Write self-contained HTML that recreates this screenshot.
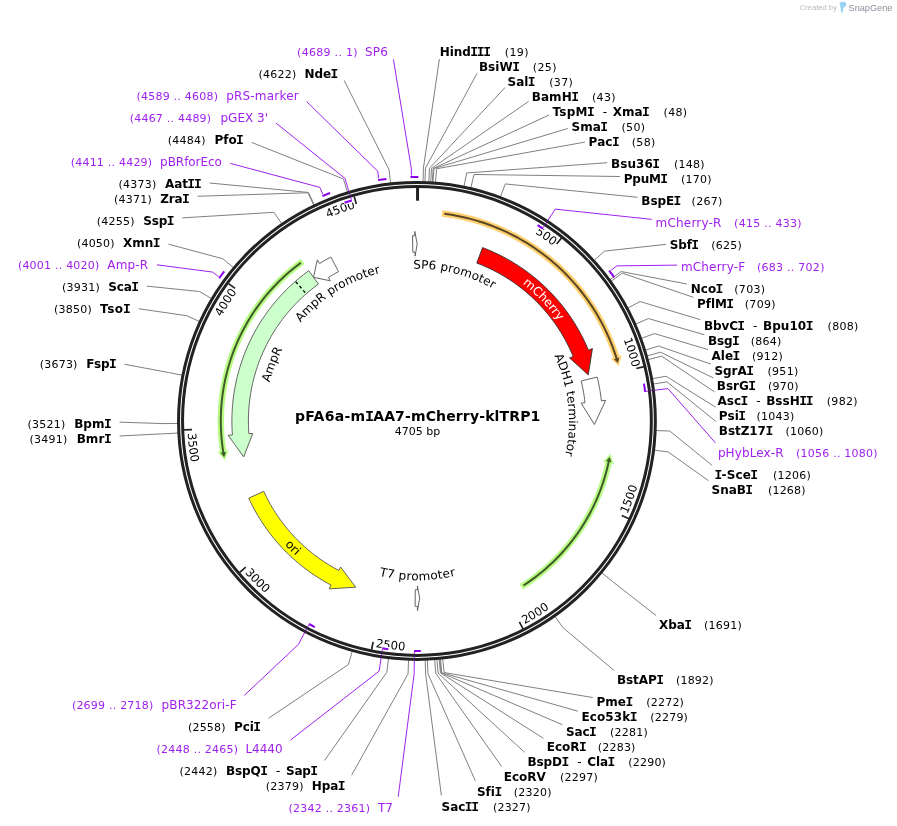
<!DOCTYPE html>
<html><head><meta charset="utf-8"><title>pFA6a-mIAA7-mCherry-klTRP1</title>
<style>html,body{margin:0;padding:0;background:#fff}svg{display:block}</style></head>
<body><svg width="897" height="826" viewBox="0 0 897 826" font-family='"DejaVu Sans", "Liberation Sans", sans-serif'>
<defs><path id="p1" d="M197.52,391.14 A221.7,221.7 0 1 1 501.18,626.18"/>
<path id="p2" d="M263.19,261.53 A221.7,221.7 0 1 1 356.1,634.11"/>
<path id="p3" d="M231.49,556.18 A229.7,229.7 0 1 0 392.99,192.58"/>
<path id="p4" d="M187.67,412.16 A229.7,229.7 0 1 0 539.62,226.64"/>
<path id="p5" d="M242.44,271.93 A229.7,229.7 0 1 0 633.68,344.19"/>
<path id="p6" d="M372.27,195.74 A229.7,229.7 0 1 0 634.75,494.72"/>
<path id="p7" d="M521.4,216.3 A229.7,229.7 0 1 0 542.38,613.59"/>
<path id="p8" d="M395.79,641.66 A221.7,221.7 0 1 1 619,329.21"/>
<path id="p9" d="M263.76,581.02 A221.7,221.7 0 1 1 632.5,473.88"/>
<path id="p10" d="M250.9,373.31 A173,173 0 1 1 459.05,588.86"/>
<path id="p11" d="M368.72,246.2 A181.4,181.4 0 1 0 592.82,466.42"/>
<path id="p12" d="M270.73,462.72 A152.3,152.3 0 1 1 526.57,526.99"/>
<path id="p13" d="M327.33,298.66 A151.8,151.8 0 1 1 356.18,560"/>
<path id="p14" d="M345.56,555.74 A152.6,152.6 0 1 1 569.71,415.67"/>
<path id="p15" d="M440.55,571.8 A152.6,152.6 0 1 1 536.13,325.38"/>
<path id="p16" d="M279.24,341.35 A159.3,159.3 0 1 0 555.16,341.35"/></defs>
<rect width="897" height="826" fill="#fff"/>
<path d="M439.39,59 L423.42,168.08 L423.07,181.88 M477.05,73.42 L425.45,168.14 L424.98,181.93 M504.97,87.59 L429.5,168.31 L428.81,182.09 M528.65,101.4 L431.52,168.42 L430.73,182.19 M549.04,115.01 L433.21,168.52 L432.32,182.29 M567.85,128.5 L433.88,168.56 L432.96,182.33 M584.86,142.11 L436.58,168.76 L435.51,182.52 M607.21,162.71 L466.68,172.93 L463.97,186.46 M619.9,176.51 L473.94,174.49 L470.84,187.94 M637.52,197.3 L505.31,183.91 L500.49,196.84 M666.03,244.34 L604.49,251.12 L594.26,260.39 M686.97,284 L621.13,271.54 L610,279.69 M693.41,297.32 L622.32,273.18 L611.13,281.24 M700.28,319.65 L640.02,301.54 L627.85,308.05 M704.27,334.73 L648.32,318.53 L635.7,324.12 M707.98,349.6 L654.41,333.56 L641.46,338.33 M710.94,364.12 L658.64,346.04 L645.46,350.13 M713.42,377.97 L660.46,352.19 L647.18,355.95 M714.48,391.91 L661.54,356.1 L648.2,359.64 M715.61,407.14 L666,376.22 L652.42,378.66 M715.86,421.4 L666.96,381.88 L653.32,384.01 M712.09,465.35 L669.8,431.05 L656.01,430.5 M708.56,480.68 L668.1,451.92 L654.41,450.23 M656.14,615.55 L612.54,581.54 L601.88,572.78 M614,670.41 L562.96,627.65 L555,616.38 M592.75,697.54 L444.15,672.54 L442.66,658.82 M577.94,711.18 L441.79,672.78 L440.44,659.05 M562.5,724.77 L441.12,672.85 L439.8,659.11 M543.47,738.37 L440.45,672.91 L439.17,659.17 M524.56,752.28 L438.09,673.12 L436.94,659.37 M501.56,766.4 L435.73,673.31 L434.71,659.54 M475.35,780.9 L427.98,673.76 L427.38,659.97 M441.39,795.49 L425.61,673.85 L425.14,660.06 M344.17,80.41 L389.01,169.55 L390.54,183.27 M251.55,142.37 L343.41,178.94 L347.43,192.14 M209.58,182.99 L308.47,192.46 L314.39,204.93 M197.6,196.27 L307.86,192.75 L313.81,205.2 M182.39,217.87 L273.95,212.32 L281.75,223.71 M168.37,244.17 L222.86,258.77 L233.45,267.62 M146.88,286.13 L199.63,291.54 L211.49,298.6 M138.76,308.72 L186.93,315.76 L199.48,321.5 M124.53,364.27 L168.68,372.56 L182.22,375.21 M119.6,422.17 L164.01,423.62 L177.81,423.48 M119.6,435.99 L164.32,433.75 L178.1,433.05 M268.41,718.33 L348.44,664.53 L352.18,651.25 M324.54,760.51 L386.83,672.2 L388.48,658.49 M351.6,775.19 L408.05,673.84 L408.54,660.05" fill="none" stroke="#808080" stroke-width="1"/>
<path d="M651.82,219.4 L555.28,209.13 L544.24,226.05 M677.1,265.1 L616.86,265.87 L610.94,270.47 M715.39,442.82 L667.91,388.57 L647.88,391.16 M393.41,59.33 L411.26,168.07 L411.43,175.56 M306.62,101.55 L377.63,171.08 L378.8,178.49 M275.95,123.02 L345.03,178.45 L350.78,197.82 M230.38,163.4 L319.89,187.38 L322.77,194.31 M156.97,264.81 L212.47,272.09 L218.53,276.5 M244.27,695.45 L298.36,644.46 L307.83,626.62 M290.48,740.08 L379.13,671.15 L382.16,651.18 M398.22,796.72 L414.13,673.98 L414.36,653.79" fill="none" stroke="#a020f0" stroke-width="1"/>
<circle cx="416.95" cy="421" r="238.4" fill="none" stroke="#222" stroke-width="3"/>
<circle cx="416.95" cy="421" r="234.4" fill="none" stroke="#222" stroke-width="3"/>
<path d="M561.66,237.8 L556.7,244.09 M644.07,366.59 L636.29,368.46 M629.03,518.75 L621.77,515.4 M523.01,628.92 L519.38,621.79 M371.54,649.79 L373.11,641.94 M239.68,572.38 L245.77,567.19 M184.07,429.96 L192.07,429.65 M228.59,283.68 L235.06,288.39 M354.13,196.39 L356.29,204.09" stroke="#222" stroke-width="1.7" fill="none"/>
<path d="M417.55,187.7 L417.55,200.7" stroke="#222" stroke-width="3" fill="none"/>
<text font-size="11.6" fill="#000" letter-spacing="-0"><textPath href="#p1" startOffset="442.19">500</textPath></text>
<text font-size="11.6" fill="#000" letter-spacing="-0"><textPath href="#p2" startOffset="434.82">1000</textPath></text>
<text font-size="11.6" fill="#000" letter-spacing="-0"><textPath href="#p3" startOffset="481.08">1500</textPath></text>
<text font-size="11.6" fill="#000" letter-spacing="-0"><textPath href="#p4" startOffset="481.08">2000</textPath></text>
<text font-size="11.6" fill="#000" letter-spacing="-0"><textPath href="#p5" startOffset="481.08">2500</textPath></text>
<text font-size="11.6" fill="#000" letter-spacing="-0"><textPath href="#p6" startOffset="481.08">3000</textPath></text>
<text font-size="11.6" fill="#000" letter-spacing="-0"><textPath href="#p7" startOffset="481.08">3500</textPath></text>
<text font-size="11.6" fill="#000" letter-spacing="-0"><textPath href="#p8" startOffset="434.82">4000</textPath></text>
<text font-size="11.6" fill="#000" letter-spacing="-0"><textPath href="#p9" startOffset="434.82">4500</textPath></text>
<path d="M536.93,224.74 A230,230 0 0 1 543.54,228.94 M643.83,382.93 A230,230 0 0 1 645.23,392.51 M343.88,202.93 A230,230 0 0 1 352.53,200.22 M315.5,627.39 A230,230 0 0 1 308.26,623.67 M389.04,649.29 A230,230 0 0 1 381.59,648.26 M421.53,650.96 A230,230 0 0 1 413.39,650.97" stroke="#fff" stroke-width="4.6" fill="none"/>
<path d="M548.17,220.02 L544.24,226.05 M655.02,390.24 L647.88,391.16 M348.73,190.92 L350.78,197.82 M304.45,632.97 L307.83,626.62 M381.08,658.3 L382.16,651.18 M414.28,660.98 L414.36,653.79" fill="none" stroke="#a020f0" stroke-width="1" opacity="0.3"/>
<path d="M544.35,225.88 L543.25,227.55 M648.08,391.13 L646.09,391.39 M350.72,197.63 L351.29,199.54 M307.74,626.79 L308.67,625.03 M382.13,651.38 L382.43,649.4 M414.36,653.98 L414.38,651.99" fill="none" stroke="#a020f0" stroke-width="1"/>
<path d="M609.14,270.6 A244,244 0 0 1 614.27,277.4 M410.46,177.09 A244,244 0 0 1 418.33,177 M378.04,180.13 A244,244 0 0 1 386.47,178.92 M322.42,196.08 A244,244 0 0 1 330.02,193.03 M219.16,278.19 A244,244 0 0 1 224.26,271.38" stroke="#8c00eb" stroke-width="2" fill="none"/>
<path d="M537.52,225.11 A230,230 0 0 1 542.96,228.56 M643.94,383.62 A230,230 0 0 1 645.14,391.82 M344.55,202.71 A230,230 0 0 1 351.86,200.42 M314.87,627.08 A230,230 0 0 1 308.88,624 M388.35,649.21 A230,230 0 0 1 382.28,648.36 M420.83,650.97 A230,230 0 0 1 414.09,650.98" stroke="#8c00eb" stroke-width="2" fill="none"/>
<path d="M442.04,213.48 L445.66,213.95 L449.27,214.47 L452.87,215.07 L456.46,215.72 L460.03,216.44 L463.6,217.22 L467.15,218.06 L470.68,218.96 L474.2,219.92 L477.7,220.95 L481.19,222.04 L484.65,223.18 L488.09,224.39 L491.51,225.66 L494.91,226.98 L498.29,228.37 L501.64,229.82 L504.96,231.32 L508.26,232.88 L511.53,234.5 L514.77,236.17 L517.98,237.9 L521.16,239.69 L524.31,241.53 L527.43,243.43 L530.51,245.38 L533.56,247.38 L536.57,249.44 L539.54,251.55 L542.48,253.71 L545.38,255.93 L548.25,258.19 L551.07,260.5 L553.85,262.86 L556.59,265.27 L559.29,267.73 L561.94,270.23 L564.55,272.78 L567.11,275.37 L569.63,278.01 L572.11,280.7 L574.53,283.42 L576.91,286.19 L579.24,289 L581.52,291.85 L583.75,294.73 L585.93,297.66 L588.05,300.62 L590.13,303.62 L592.15,306.66 L594.12,309.73 L596.03,312.84 L597.9,315.97 L599.7,319.14 L601.45,322.35 L603.14,325.58 L604.78,328.84 L606.36,332.13 L607.88,335.44 L609.35,338.78 L610.75,342.15 L612.1,345.54 L613.39,348.95 L614.62,352.39 L615.78,355.84 L616.89,359.32" fill="none" stroke="#ffd070" stroke-width="6.4"/>
<path d="M621.47,355.22 L618.84,366.04 L610.81,358.65Z" fill="#ffd070"/>
<path d="M444.32,213.77 L447.96,214.28 L451.58,214.85 L455.19,215.48 L458.79,216.18 L462.38,216.94 L465.96,217.77 L469.52,218.65 L473.06,219.6 L476.59,220.62 L480.1,221.69 L483.59,222.82 L487.06,224.02 L490.5,225.28 L493.93,226.59 L497.33,227.97 L500.7,229.41 L504.05,230.9 L507.38,232.46 L510.67,234.07 L513.94,235.74 L517.18,237.46 L520.39,239.25 L523.56,241.09 L526.7,242.98 L529.81,244.93 L532.88,246.94 L535.92,248.99 L538.92,251.1 L541.89,253.27 L544.81,255.48 L547.7,257.75 L550.54,260.06 L553.35,262.43 L556.11,264.84 L558.83,267.31 L561.51,269.81 L564.14,272.37 L566.72,274.97 L569.26,277.62 L571.76,280.31 L574.2,283.05 L576.6,285.82 L578.95,288.64 L581.25,291.5 L583.5,294.4 L585.69,297.34 L587.84,300.32 L589.93,303.33 L591.97,306.38 L593.95,309.47 L595.88,312.59 L597.76,315.74 L599.58,318.93 L601.34,322.14 L603.05,325.39 L604.7,328.67 L606.29,331.98 L607.83,335.31 L609.3,338.67 L610.72,342.05 L612.07,345.46 L613.37,348.89 L614.6,352.35 L615.78,355.82 L616.89,359.32" fill="none" stroke="#5a4623" stroke-width="2"/>
<path d="M619.27,357.53 L617.98,362.96 L613.92,359.21Z" fill="#5a4623"/>
<path d="M521.48,586.72 L524.37,584.87 L527.22,582.97 L530.04,581.02 L532.82,579.02 L535.57,576.97 L538.29,574.87 L540.96,572.73 L543.6,570.54 L546.2,568.3 L548.76,566.02 L551.28,563.69 L553.75,561.32 L556.19,558.91 L558.58,556.46 L560.93,553.96 L563.24,551.42 L565.5,548.85 L567.72,546.23 L569.89,543.58 L572.01,540.88 L574.08,538.15 L576.11,535.39 L578.09,532.59 L580.02,529.76 L581.9,526.89 L583.73,523.99 L585.5,521.06 L587.23,518.09 L588.9,515.1 L590.53,512.08 L592.09,509.03 L593.61,505.96 L595.07,502.86 L596.47,499.73 L597.83,496.58 L599.12,493.4 L600.36,490.21 L601.54,486.99 L602.67,483.75 L603.74,480.5 L604.76,477.22 L605.71,473.93 L606.61,470.62 L607.45,467.29 L608.23,463.96 L608.95,460.61" fill="none" stroke="#b8fc86" stroke-width="6.4"/>
<path d="M613.9,464.25 L610.25,453.73 L602.96,461.85Z" fill="#b8fc86"/>
<path d="M523.42,585.48 L526.31,583.58 L529.16,581.63 L531.97,579.63 L534.75,577.59 L537.5,575.49 L540.2,573.34 L542.87,571.15 L545.5,568.91 L548.09,566.62 L550.63,564.29 L553.14,561.92 L555.61,559.5 L558.03,557.03 L560.4,554.53 L562.74,551.98 L565.02,549.4 L567.27,546.77 L569.46,544.1 L571.61,541.4 L573.71,538.66 L575.76,535.88 L577.76,533.06 L579.71,530.21 L581.61,527.33 L583.46,524.41 L585.26,521.47 L587.01,518.49 L588.7,515.48 L590.34,512.44 L591.92,509.37 L593.46,506.27 L594.93,503.15 L596.35,500 L597.72,496.83 L599.03,493.64 L600.28,490.42 L601.48,487.18 L602.62,483.92 L603.7,480.64 L604.72,477.34 L605.68,474.02 L606.59,470.69 L607.44,467.34 L608.22,463.98 L608.95,460.61" fill="none" stroke="#405a28" stroke-width="2"/>
<path d="M611.49,462.16 L609.69,456.88 L606.01,461Z" fill="#405a28"/>
<path d="M302.7,261.43 L299.89,263.48 L297.13,265.58 L294.4,267.73 L291.71,269.92 L289.05,272.17 L286.44,274.46 L283.87,276.79 L281.34,279.17 L278.86,281.6 L276.41,284.06 L274.01,286.57 L271.66,289.13 L269.35,291.72 L267.09,294.36 L264.87,297.03 L262.7,299.74 L260.58,302.49 L258.51,305.28 L256.49,308.11 L254.52,310.96 L252.6,313.86 L250.73,316.79 L248.91,319.75 L247.15,322.74 L245.44,325.76 L243.78,328.81 L242.18,331.89 L240.63,335 L239.14,338.14 L237.7,341.3 L236.32,344.48 L234.99,347.7 L233.73,350.93 L232.52,354.18 L231.36,357.46 L230.27,360.76 L229.23,364.07 L228.25,367.4 L227.34,370.75 L226.48,374.12 L225.68,377.5 L224.94,380.89 L224.26,384.3 L223.64,387.71 L223.08,391.14 L222.59,394.58 L222.15,398.02 L221.77,401.48 L221.46,404.93 L221.2,408.4 L221.01,411.87 L220.88,415.34 L220.81,418.81 L220.8,422.28 L220.86,425.75 L220.97,429.23 L221.15,432.69 L221.39,436.16 L221.68,439.62 L222.04,443.07 L222.47,446.52 L222.95,449.96 L223.49,453.39" fill="none" stroke="#b8fc86" stroke-width="6.4"/>
<path d="M217.56,451.77 L224.77,460.27 L228.63,450.07Z" fill="#b8fc86"/>
<path d="M300.84,262.78 L298.08,264.84 L295.37,266.95 L292.69,269.11 L290.06,271.31 L287.46,273.56 L284.9,275.85 L282.38,278.19 L279.9,280.57 L277.46,282.99 L275.07,285.46 L272.72,287.96 L270.41,290.51 L268.15,293.1 L265.94,295.73 L263.77,298.39 L261.65,301.1 L259.57,303.84 L257.55,306.61 L255.57,309.42 L253.64,312.27 L251.77,315.15 L249.94,318.06 L248.16,321 L246.44,323.97 L244.77,326.98 L243.15,330.01 L241.59,333.07 L240.07,336.15 L238.62,339.26 L237.21,342.4 L235.87,345.56 L234.57,348.75 L233.34,351.95 L232.16,355.18 L231.03,358.43 L229.97,361.69 L228.96,364.98 L228.01,368.28 L227.11,371.6 L226.28,374.93 L225.5,378.28 L224.78,381.64 L224.13,385.01 L223.52,388.4 L222.98,391.79 L222.5,395.19 L222.08,398.6 L221.72,402.02 L221.42,405.44 L221.17,408.87 L220.99,412.3 L220.87,415.74 L220.81,419.17 L220.81,422.61 L220.86,426.05 L220.98,429.48 L221.16,432.91 L221.4,436.34 L221.7,439.76 L222.06,443.18 L222.47,446.59 L222.95,450 L223.49,453.39" fill="none" stroke="#405a28" stroke-width="2"/>
<path d="M220.56,452.85 L224.15,457.13 L226.09,451.96Z" fill="#405a28"/>
<path d="M482.57,247.62 L485.65,248.81 L488.7,250.05 L491.73,251.35 L494.73,252.7 L497.71,254.11 L500.67,255.56 L503.6,257.08 L506.5,258.64 L509.37,260.25 L512.22,261.92 L515.03,263.63 L517.82,265.4 L520.57,267.21 L523.29,269.07 L525.97,270.98 L528.62,272.94 L531.24,274.95 L533.82,277 L536.36,279.1 L538.87,281.24 L541.33,283.42 L543.76,285.65 L546.15,287.92 L548.49,290.24 L550.8,292.59 L553.06,294.99 L555.28,297.43 L557.46,299.9 L559.59,302.42 L561.67,304.97 L563.71,307.56 L565.71,310.18 L567.66,312.84 L569.56,315.53 L571.41,318.26 L573.21,321.02 L574.96,323.81 L576.67,326.63 L578.32,329.48 L579.92,332.36 L581.47,335.27 L582.97,338.2 L584.42,341.16 L585.81,344.15 L587.15,347.16 L588.44,350.19 L592.41,348.55 L588.29,374.86 L569.59,357.99 L573.19,356.5 L572.02,353.74 L570.8,350.99 L569.53,348.27 L568.21,345.57 L566.85,342.9 L565.43,340.25 L563.97,337.63 L562.47,335.03 L560.92,332.46 L559.32,329.92 L557.68,327.41 L555.99,324.92 L554.26,322.47 L552.48,320.05 L550.67,317.66 L548.81,315.3 L546.91,312.98 L544.97,310.69 L542.98,308.43 L540.96,306.21 L538.9,304.03 L536.8,301.88 L534.66,299.77 L532.49,297.7 L530.28,295.67 L528.03,293.68 L525.75,291.73 L523.43,289.82 L521.08,287.95 L518.7,286.13 L516.29,284.34 L513.84,282.6 L511.36,280.9 L508.86,279.25 L506.32,277.64 L503.76,276.08 L501.17,274.57 L498.55,273.1 L495.91,271.67 L493.24,270.3 L490.55,268.97 L487.83,267.69 L485.09,266.46 L482.33,265.27 L479.55,264.14 L476.75,263.05Z" fill="#ff0000" stroke="#333" stroke-width="0.9" stroke-linejoin="miter"/>
<path d="M597.22,377.07 L598,380.43 L598.73,383.8 L599.39,387.19 L599.99,390.59 L600.52,394 L600.99,397.42 L601.4,400.85 L605.68,400.38 L594.37,424.49 L581.12,403.07 L585,402.64 L584.63,399.52 L584.2,396.4 L583.71,393.3 L583.17,390.2 L582.56,387.11 L581.9,384.04 L581.19,380.98Z" fill="#fff" stroke="#5c5c5c" stroke-width="0.95" stroke-linejoin="miter"/>
<path d="M412.5,235.76 L414.85,235.71 L414.79,231.42 L417.2,243.8 L415.11,256.11 L415.06,252.21 L412.92,252.25Z" fill="#fff" stroke="#5c5c5c" stroke-width="0.95" stroke-linejoin="miter"/>
<path d="M415.1,606.29 L417.45,606.3 L417.45,610.6 L419.68,598.18 L417.42,585.9 L417.43,589.8 L415.28,589.79Z" fill="#fff" stroke="#5c5c5c" stroke-width="0.95" stroke-linejoin="miter"/>
<path d="M248.74,498.19 L250.14,501.17 L251.59,504.13 L253.1,507.06 L254.65,509.97 L256.26,512.84 L257.92,515.69 L259.63,518.51 L261.39,521.29 L263.2,524.05 L265.05,526.77 L266.96,529.46 L268.91,532.11 L270.91,534.73 L272.95,537.31 L275.04,539.86 L277.18,542.37 L279.36,544.84 L281.58,547.27 L283.85,549.66 L286.16,552.01 L288.51,554.32 L290.9,556.59 L293.33,558.81 L295.8,560.99 L298.31,563.13 L300.86,565.22 L303.44,567.27 L306.06,569.27 L308.71,571.22 L311.4,573.13 L314.12,574.98 L316.87,576.79 L319.66,578.55 L322.48,580.26 L325.32,581.92 L328.2,583.53 L331.1,585.08 L329.1,588.89 L355.68,587.18 L340.58,567.02 L338.77,570.47 L336.12,569.05 L333.5,567.59 L330.91,566.08 L328.35,564.52 L325.81,562.92 L323.3,561.27 L320.82,559.58 L318.37,557.84 L315.95,556.07 L313.57,554.24 L311.22,552.38 L308.9,550.47 L306.61,548.53 L304.36,546.54 L302.15,544.52 L299.97,542.45 L297.83,540.35 L295.72,538.21 L293.66,536.03 L291.63,533.81 L289.65,531.56 L287.7,529.28 L285.8,526.96 L283.93,524.6 L282.11,522.22 L280.34,519.8 L278.6,517.35 L276.91,514.87 L275.26,512.36 L273.66,509.82 L272.1,507.26 L270.59,504.67 L269.13,502.05 L267.71,499.4 L266.34,496.73 L265.02,494.04 L263.74,491.32Z" fill="#ffff00" stroke="#5c5c5c" stroke-width="0.95" stroke-linejoin="miter"/>
<path d="M308.78,270.73 L306.16,272.66 L303.56,274.64 L301,276.66 L298.48,278.73 L295.99,280.84 L293.54,283 L291.13,285.19 L288.76,287.43 L286.43,289.72 L284.14,292.04 L281.89,294.4 L279.68,296.8 L277.52,299.24 L275.4,301.72 L273.32,304.24 L271.28,306.79 L269.3,309.37 L267.35,311.99 L265.46,314.65 L263.61,317.34 L261.81,320.06 L260.06,322.81 L258.35,325.59 L256.7,328.4 L255.09,331.24 L253.54,334.11 L252.03,337 L250.58,339.92 L249.18,342.87 L247.83,345.84 L246.53,348.83 L245.29,351.85 L244.1,354.89 L242.96,357.95 L241.88,361.02 L240.85,364.12 L239.87,367.23 L238.95,370.36 L238.09,373.51 L237.28,376.67 L236.53,379.84 L235.83,383.03 L235.19,386.23 L234.61,389.44 L234.08,392.66 L233.61,395.89 L233.2,399.12 L232.84,402.36 L232.54,405.61 L232.3,408.87 L232.11,412.12 L231.99,415.38 L231.91,418.64 L231.9,421.91 L231.95,425.17 L232.05,428.43 L232.21,431.69 L232.43,434.94 L228.14,435.27 L243.67,456.9 L252.77,433.41 L248.88,433.7 L248.68,430.74 L248.54,427.77 L248.44,424.8 L248.4,421.83 L248.41,418.85 L248.48,415.88 L248.59,412.91 L248.76,409.95 L248.98,406.98 L249.26,404.02 L249.58,401.07 L249.96,398.12 L250.39,395.18 L250.87,392.25 L251.4,389.32 L251.98,386.41 L252.62,383.51 L253.3,380.62 L254.04,377.74 L254.83,374.87 L255.66,372.02 L256.55,369.18 L257.49,366.36 L258.47,363.56 L259.51,360.77 L260.59,358.01 L261.73,355.26 L262.91,352.53 L264.14,349.83 L265.41,347.14 L266.74,344.48 L268.11,341.85 L269.53,339.23 L270.99,336.65 L272.5,334.09 L274.05,331.55 L275.64,329.05 L277.29,326.57 L278.97,324.12 L280.7,321.7 L282.47,319.31 L284.28,316.96 L286.13,314.63 L288.02,312.34 L289.96,310.08 L291.93,307.86 L293.94,305.67 L295.99,303.52 L298.08,301.41 L300.2,299.33 L302.36,297.29 L304.56,295.28 L306.79,293.32 L309.05,291.4 L311.35,289.51 L313.68,287.67 L316.04,285.87 L318.44,284.11Z" fill="#ccffcc" stroke="#5c5c5c" stroke-width="0.95" stroke-linejoin="miter"/>
<path d="M330.85,257.05 L327.99,258.59 L325.16,260.18 L322.35,261.81 L319.58,263.5 L317.31,259.85 L313.52,277.3 L330.33,280.84 L328.27,277.53 L330.8,275.99 L333.35,274.5 L335.93,273.05 L338.54,271.65Z" fill="#fff" stroke="#5c5c5c" stroke-width="0.95" stroke-linejoin="miter"/>
<path d="M295.75,281.72 L306.26,293.78" stroke="#000" stroke-width="1.3" stroke-dasharray="3,2.7" fill="none"/>
<text font-size="12" fill="#fff" letter-spacing="0.05"><textPath href="#p10" startOffset="336.25">mCherry</textPath></text>
<text font-size="12" fill="#000" letter-spacing="0.03"><textPath href="#p11" startOffset="372.08">ori</textPath></text>
<text font-size="12" fill="#000" letter-spacing="0.1"><textPath href="#p12" startOffset="277.4">SP6 promoter</textPath></text>
<text font-size="12" fill="#000" letter-spacing="0.04"><textPath href="#p13" startOffset="266.81">ADH1 terminator</textPath></text>
<text font-size="12" fill="#000" letter-spacing="0.03"><textPath href="#p14" startOffset="271.72">AmpR promoter</textPath></text>
<text font-size="12" fill="#000" letter-spacing="-0.04"><textPath href="#p15" startOffset="301.75">AmpR</textPath></text>
<text font-size="12" fill="#000" letter-spacing="0.31"><textPath href="#p16" startOffset="294.71">T7 promoter</textPath></text>
<text x="294.95" y="420.9" font-size="14" font-weight="bold" fill="#000"><tspan letter-spacing="0.31">pFA6a-m</tspan><tspan dx="-0.64" font-family='"Liberation Mono", monospace' font-size="15.12" letter-spacing="-1.43">I</tspan><tspan dx="0.64" letter-spacing="0.14">AA7-mCherry-klTRP1</tspan></text>
<text x="417.51" y="434.7" font-size="11" fill="#000" text-anchor="middle" letter-spacing="0.02">4705 bp</text>
<text x="439.7" y="55.7" font-size="12" font-weight="bold" fill="#000"><tspan letter-spacing="-0.05">Hind</tspan><tspan dx="-0.55" font-family='"Liberation Mono", monospace' font-size="12.96" letter-spacing="-1.22">III</tspan></text>
<text x="504.8" y="55.7" font-size="11" fill="#000" letter-spacing="0.35">(19)</text>
<text x="478.9" y="70.7" font-size="12" font-weight="bold" fill="#000"><tspan letter-spacing="0.07">BsiW</tspan><tspan dx="-0.55" font-family='"Liberation Mono", monospace' font-size="12.96" letter-spacing="-1.22">I</tspan></text>
<text x="532.8" y="70.7" font-size="11" fill="#000" letter-spacing="0.35">(25)</text>
<text x="507.6" y="85.7" font-size="12" font-weight="bold" fill="#000"><tspan letter-spacing="-0.07">Sal</tspan><tspan dx="-0.55" font-family='"Liberation Mono", monospace' font-size="12.96" letter-spacing="-1.22">I</tspan></text>
<text x="549.2" y="85.7" font-size="11" fill="#000" letter-spacing="0.35">(37)</text>
<text x="531.8" y="100.7" font-size="12" font-weight="bold" fill="#000"><tspan letter-spacing="0.03">BamH</tspan><tspan dx="-0.55" font-family='"Liberation Mono", monospace' font-size="12.96" letter-spacing="-1.22">I</tspan></text>
<text x="591.9" y="100.7" font-size="11" fill="#000" letter-spacing="0.35">(43)</text>
<text x="552.5" y="115.7" font-size="12" font-weight="bold" fill="#000"><tspan letter-spacing="0.2">TspM</tspan><tspan dx="-0.55" font-family='"Liberation Mono", monospace' font-size="12.96" letter-spacing="-1.22">I</tspan></text>
<text x="602.72" y="115.7" font-size="12" fill="#000" letter-spacing="1.12">-</text>
<text x="612.72" y="115.7" font-size="12" font-weight="bold" fill="#000"><tspan letter-spacing="0.01">Xma</tspan><tspan dx="-0.55" font-family='"Liberation Mono", monospace' font-size="12.96" letter-spacing="-1.22">I</tspan></text>
<text x="663.5" y="115.7" font-size="11" fill="#000" letter-spacing="0.35">(48)</text>
<text x="571.5" y="130.7" font-size="12" font-weight="bold" fill="#000"><tspan letter-spacing="-0">Sma</tspan><tspan dx="-0.55" font-family='"Liberation Mono", monospace' font-size="12.96" letter-spacing="-1.22">I</tspan></text>
<text x="621.4" y="130.7" font-size="11" fill="#000" letter-spacing="0.35">(50)</text>
<text x="588.6" y="145.7" font-size="12" font-weight="bold" fill="#000"><tspan letter-spacing="0.06">Pac</tspan><tspan dx="-0.55" font-family='"Liberation Mono", monospace' font-size="12.96" letter-spacing="-1.22">I</tspan></text>
<text x="631.7" y="145.7" font-size="11" fill="#000" letter-spacing="0.35">(58)</text>
<text x="611" y="167.7" font-size="12" font-weight="bold" fill="#000"><tspan letter-spacing="0.07">Bsu36</tspan><tspan dx="-0.55" font-family='"Liberation Mono", monospace' font-size="12.96" letter-spacing="-1.22">I</tspan></text>
<text x="673.9" y="167.7" font-size="11" fill="#000" letter-spacing="0.28">(148)</text>
<text x="623.7" y="182.7" font-size="12" font-weight="bold" fill="#000"><tspan letter-spacing="-0.19">PpuM</tspan><tspan dx="-0.55" font-family='"Liberation Mono", monospace' font-size="12.96" letter-spacing="-1.22">I</tspan></text>
<text x="680.9" y="182.7" font-size="11" fill="#000" letter-spacing="0.28">(170)</text>
<text x="641.3" y="204.7" font-size="12" font-weight="bold" fill="#000"><tspan letter-spacing="-0.06">BspE</tspan><tspan dx="-0.55" font-family='"Liberation Mono", monospace' font-size="12.96" letter-spacing="-1.22">I</tspan></text>
<text x="691.6" y="204.7" font-size="11" fill="#000" letter-spacing="0.28">(267)</text>
<text x="655.6" y="226.9" font-size="12" fill="#a020f0" letter-spacing="0.19">mCherry-R</text>
<text x="734.1" y="226.9" font-size="11" fill="#a020f0" letter-spacing="0.26">(415 .. 433)</text>
<text x="669.8" y="248.7" font-size="12" font-weight="bold" fill="#000"><tspan letter-spacing="-0.16">Sbf</tspan><tspan dx="-0.55" font-family='"Liberation Mono", monospace' font-size="12.96" letter-spacing="-1.22">I</tspan></text>
<text x="711.2" y="248.7" font-size="11" fill="#000" letter-spacing="0.28">(625)</text>
<text x="680.9" y="270.9" font-size="12" fill="#a020f0" letter-spacing="0.18">mCherry-F</text>
<text x="757" y="270.9" font-size="11" fill="#a020f0" letter-spacing="0.26">(683 .. 702)</text>
<text x="690.7" y="292.7" font-size="12" font-weight="bold" fill="#000"><tspan letter-spacing="0.02">Nco</tspan><tspan dx="-0.55" font-family='"Liberation Mono", monospace' font-size="12.96" letter-spacing="-1.22">I</tspan></text>
<text x="734.3" y="292.7" font-size="11" fill="#000" letter-spacing="0.28">(703)</text>
<text x="697" y="307.7" font-size="12" font-weight="bold" fill="#000"><tspan letter-spacing="-0.07">PflM</tspan><tspan dx="-0.55" font-family='"Liberation Mono", monospace' font-size="12.96" letter-spacing="-1.22">I</tspan></text>
<text x="744.8" y="307.7" font-size="11" fill="#000" letter-spacing="0.28">(709)</text>
<text x="703.9" y="329.7" font-size="12" font-weight="bold" fill="#000"><tspan letter-spacing="-0.09">BbvC</tspan><tspan dx="-0.55" font-family='"Liberation Mono", monospace' font-size="12.96" letter-spacing="-1.22">I</tspan></text>
<text x="753.07" y="329.7" font-size="12" fill="#000" letter-spacing="1.12">-</text>
<text x="763.07" y="329.7" font-size="12" font-weight="bold" fill="#000"><tspan letter-spacing="0.03">Bpu10</tspan><tspan dx="-0.55" font-family='"Liberation Mono", monospace' font-size="12.96" letter-spacing="-1.22">I</tspan></text>
<text x="827.6" y="329.7" font-size="11" fill="#000" letter-spacing="0.28">(808)</text>
<text x="707.9" y="344.7" font-size="12" font-weight="bold" fill="#000"><tspan letter-spacing="-0.08">Bsg</tspan><tspan dx="-0.55" font-family='"Liberation Mono", monospace' font-size="12.96" letter-spacing="-1.22">I</tspan></text>
<text x="750.7" y="344.7" font-size="11" fill="#000" letter-spacing="0.28">(864)</text>
<text x="711.6" y="359.7" font-size="12" font-weight="bold" fill="#000"><tspan letter-spacing="-0.05">Ale</tspan><tspan dx="-0.55" font-family='"Liberation Mono", monospace' font-size="12.96" letter-spacing="-1.22">I</tspan></text>
<text x="752" y="359.7" font-size="11" fill="#000" letter-spacing="0.28">(912)</text>
<text x="714.5" y="374.7" font-size="12" font-weight="bold" fill="#000"><tspan letter-spacing="-0.06">SgrA</tspan><tspan dx="-0.55" font-family='"Liberation Mono", monospace' font-size="12.96" letter-spacing="-1.22">I</tspan></text>
<text x="767.5" y="374.7" font-size="11" fill="#000" letter-spacing="0.28">(951)</text>
<text x="716.8" y="389.7" font-size="12" font-weight="bold" fill="#000"><tspan letter-spacing="-0.03">BsrG</tspan><tspan dx="-0.55" font-family='"Liberation Mono", monospace' font-size="12.96" letter-spacing="-1.22">I</tspan></text>
<text x="767.9" y="389.7" font-size="11" fill="#000" letter-spacing="0.28">(970)</text>
<text x="717.6" y="404.7" font-size="12" font-weight="bold" fill="#000"><tspan letter-spacing="-0.02">Asc</tspan><tspan dx="-0.55" font-family='"Liberation Mono", monospace' font-size="12.96" letter-spacing="-1.22">I</tspan></text>
<text x="756.24" y="404.7" font-size="12" fill="#000" letter-spacing="1.12">-</text>
<text x="766.24" y="404.7" font-size="12" font-weight="bold" fill="#000"><tspan letter-spacing="-0.01">BssH</tspan><tspan dx="-0.55" font-family='"Liberation Mono", monospace' font-size="12.96" letter-spacing="-1.22">II</tspan></text>
<text x="826.8" y="404.7" font-size="11" fill="#000" letter-spacing="0.28">(982)</text>
<text x="718.8" y="419.7" font-size="12" font-weight="bold" fill="#000"><tspan letter-spacing="0.06">Psi</tspan><tspan dx="-0.55" font-family='"Liberation Mono", monospace' font-size="12.96" letter-spacing="-1.22">I</tspan></text>
<text x="756.6" y="419.7" font-size="11" fill="#000" letter-spacing="0.23">(1043)</text>
<text x="718.8" y="434.7" font-size="12" font-weight="bold" fill="#000"><tspan letter-spacing="-0.05">BstZ17</tspan><tspan dx="-0.55" font-family='"Liberation Mono", monospace' font-size="12.96" letter-spacing="-1.22">I</tspan></text>
<text x="785.6" y="434.7" font-size="11" fill="#000" letter-spacing="0.23">(1060)</text>
<text x="717.9" y="456.9" font-size="12" fill="#a020f0" letter-spacing="0.11">pHybLex-R</text>
<text x="796.1" y="456.9" font-size="11" fill="#a020f0" letter-spacing="0.22">(1056 .. 1080)</text>
<text x="715" y="478.7" font-size="12" font-weight="bold" fill="#000"><tspan dx="-0.55" font-family='"Liberation Mono", monospace' font-size="12.96" letter-spacing="-1.22">I</tspan><tspan dx="0.55" letter-spacing="0.11">-Sce</tspan><tspan dx="-0.55" font-family='"Liberation Mono", monospace' font-size="12.96" letter-spacing="-1.22">I</tspan></text>
<text x="773" y="478.7" font-size="11" fill="#000" letter-spacing="0.23">(1206)</text>
<text x="711.6" y="493.7" font-size="12" font-weight="bold" fill="#000"><tspan letter-spacing="-0.05">SnaB</tspan><tspan dx="-0.55" font-family='"Liberation Mono", monospace' font-size="12.96" letter-spacing="-1.22">I</tspan></text>
<text x="767.9" y="493.7" font-size="11" fill="#000" letter-spacing="0.23">(1268)</text>
<text x="659.1" y="628.8" font-size="12" font-weight="bold" fill="#000"><tspan letter-spacing="-0.12">Xba</tspan><tspan dx="-0.55" font-family='"Liberation Mono", monospace' font-size="12.96" letter-spacing="-1.22">I</tspan></text>
<text x="704" y="628.8" font-size="11" fill="#000" letter-spacing="0.23">(1691)</text>
<text x="616.9" y="683.8" font-size="12" font-weight="bold" fill="#000"><tspan letter-spacing="-0.05">BstAP</tspan><tspan dx="-0.55" font-family='"Liberation Mono", monospace' font-size="12.96" letter-spacing="-1.22">I</tspan></text>
<text x="675.9" y="683.8" font-size="11" fill="#000" letter-spacing="0.23">(1892)</text>
<text x="596.5" y="705.8" font-size="12" font-weight="bold" fill="#000"><tspan letter-spacing="0.01">Pme</tspan><tspan dx="-0.55" font-family='"Liberation Mono", monospace' font-size="12.96" letter-spacing="-1.22">I</tspan></text>
<text x="646.2" y="705.8" font-size="11" fill="#000" letter-spacing="0.23">(2272)</text>
<text x="581.6" y="720.8" font-size="12" font-weight="bold" fill="#000"><tspan letter-spacing="0.06">Eco53k</tspan><tspan dx="-0.55" font-family='"Liberation Mono", monospace' font-size="12.96" letter-spacing="-1.22">I</tspan></text>
<text x="650.2" y="720.8" font-size="11" fill="#000" letter-spacing="0.23">(2279)</text>
<text x="566" y="735.8" font-size="12" font-weight="bold" fill="#000"><tspan letter-spacing="-0.09">Sac</tspan><tspan dx="-0.55" font-family='"Liberation Mono", monospace' font-size="12.96" letter-spacing="-1.22">I</tspan></text>
<text x="610.1" y="735.8" font-size="11" fill="#000" letter-spacing="0.23">(2281)</text>
<text x="546.7" y="750.8" font-size="12" font-weight="bold" fill="#000"><tspan letter-spacing="0.02">EcoR</tspan><tspan dx="-0.55" font-family='"Liberation Mono", monospace' font-size="12.96" letter-spacing="-1.22">I</tspan></text>
<text x="597.7" y="750.8" font-size="11" fill="#000" letter-spacing="0.23">(2283)</text>
<text x="527.4" y="765.8" font-size="12" font-weight="bold" fill="#000"><tspan letter-spacing="-0.06">BspD</tspan><tspan dx="-0.55" font-family='"Liberation Mono", monospace' font-size="12.96" letter-spacing="-1.22">I</tspan></text>
<text x="577.16" y="765.8" font-size="12" fill="#000" letter-spacing="1.12">-</text>
<text x="587.16" y="765.8" font-size="12" font-weight="bold" fill="#000"><tspan letter-spacing="-0.07">Cla</tspan><tspan dx="-0.55" font-family='"Liberation Mono", monospace' font-size="12.96" letter-spacing="-1.22">I</tspan></text>
<text x="628.2" y="765.8" font-size="11" fill="#000" letter-spacing="0.23">(2290)</text>
<text x="503.8" y="780.8" font-size="12" font-weight="bold" fill="#000"><tspan letter-spacing="-0.01">EcoRV</tspan></text>
<text x="560" y="780.8" font-size="11" fill="#000" letter-spacing="0.23">(2297)</text>
<text x="476.9" y="795.8" font-size="12" font-weight="bold" fill="#000"><tspan letter-spacing="0.05">Sfi</tspan><tspan dx="-0.55" font-family='"Liberation Mono", monospace' font-size="12.96" letter-spacing="-1.22">I</tspan></text>
<text x="513.8" y="795.8" font-size="11" fill="#000" letter-spacing="0.23">(2320)</text>
<text x="441.6" y="810.8" font-size="12" font-weight="bold" fill="#000"><tspan letter-spacing="-0.09">Sac</tspan><tspan dx="-0.55" font-family='"Liberation Mono", monospace' font-size="12.96" letter-spacing="-1.22">II</tspan></text>
<text x="492.9" y="810.8" font-size="11" fill="#000" letter-spacing="0.23">(2327)</text>
<text x="364.92" y="56.1" font-size="12" fill="#a020f0" letter-spacing="0.2">SP6</text>
<text x="297.1" y="56.1" font-size="11" fill="#a020f0" letter-spacing="0.29">(4689 .. 1)</text>
<text x="304.43" y="77.7" font-size="12" font-weight="bold" fill="#000"><tspan letter-spacing="-0.08">Nde</tspan><tspan dx="-0.55" font-family='"Liberation Mono", monospace' font-size="12.96" letter-spacing="-1.22">I</tspan></text>
<text x="258.5" y="77.7" font-size="11" fill="#000" letter-spacing="0.23">(4622)</text>
<text x="226.14" y="100" font-size="12" fill="#a020f0" letter-spacing="0.21">pRS-marker</text>
<text x="136.5" y="100" font-size="11" fill="#a020f0" letter-spacing="0.22">(4589 .. 4608)</text>
<text x="220.44" y="122" font-size="12" fill="#a020f0" letter-spacing="0.03">pGEX 3'</text>
<text x="129.7" y="122" font-size="11" fill="#a020f0" letter-spacing="0.22">(4467 .. 4489)</text>
<text x="214.54" y="143.7" font-size="12" font-weight="bold" fill="#000"><tspan letter-spacing="-0.05">Pfo</tspan><tspan dx="-0.55" font-family='"Liberation Mono", monospace' font-size="12.96" letter-spacing="-1.22">I</tspan></text>
<text x="167.8" y="143.7" font-size="11" fill="#000" letter-spacing="0.23">(4484)</text>
<text x="160.1" y="166" font-size="12" fill="#a020f0" letter-spacing="-0.05">pBRforEco</text>
<text x="70.7" y="166" font-size="11" fill="#a020f0" letter-spacing="0.22">(4411 .. 4429)</text>
<text x="165.1" y="187.7" font-size="12" font-weight="bold" fill="#000"><tspan letter-spacing="-0.11">Aat</tspan><tspan dx="-0.55" font-family='"Liberation Mono", monospace' font-size="12.96" letter-spacing="-1.22">II</tspan></text>
<text x="118.5" y="187.7" font-size="11" fill="#000" letter-spacing="0.23">(4373)</text>
<text x="160.16" y="202.7" font-size="12" font-weight="bold" fill="#000"><tspan letter-spacing="-0.14">Zra</tspan><tspan dx="-0.55" font-family='"Liberation Mono", monospace' font-size="12.96" letter-spacing="-1.22">I</tspan></text>
<text x="114.1" y="202.7" font-size="11" fill="#000" letter-spacing="0.23">(4371)</text>
<text x="143.22" y="224.7" font-size="12" font-weight="bold" fill="#000"><tspan letter-spacing="-0.12">Ssp</tspan><tspan dx="-0.55" font-family='"Liberation Mono", monospace' font-size="12.96" letter-spacing="-1.22">I</tspan></text>
<text x="96.8" y="224.7" font-size="11" fill="#000" letter-spacing="0.23">(4255)</text>
<text x="122.94" y="246.7" font-size="12" font-weight="bold" fill="#000"><tspan letter-spacing="0.04">Xmn</tspan><tspan dx="-0.55" font-family='"Liberation Mono", monospace' font-size="12.96" letter-spacing="-1.22">I</tspan></text>
<text x="76.9" y="246.7" font-size="11" fill="#000" letter-spacing="0.23">(4050)</text>
<text x="107.25" y="269" font-size="12" fill="#a020f0" letter-spacing="0.19">Amp-R</text>
<text x="17.9" y="269" font-size="11" fill="#a020f0" letter-spacing="0.22">(4001 .. 4020)</text>
<text x="108.16" y="290.7" font-size="12" font-weight="bold" fill="#000"><tspan letter-spacing="-0.09">Sca</tspan><tspan dx="-0.55" font-family='"Liberation Mono", monospace' font-size="12.96" letter-spacing="-1.22">I</tspan></text>
<text x="62" y="290.7" font-size="11" fill="#000" letter-spacing="0.23">(3931)</text>
<text x="100.1" y="312.7" font-size="12" font-weight="bold" fill="#000"><tspan letter-spacing="0.52">Tso</tspan><tspan dx="-0.55" font-family='"Liberation Mono", monospace' font-size="12.96" letter-spacing="-1.22">I</tspan></text>
<text x="54.1" y="312.7" font-size="11" fill="#000" letter-spacing="0.23">(3850)</text>
<text x="86.14" y="367.7" font-size="12" font-weight="bold" fill="#000"><tspan letter-spacing="-0.21">Fsp</tspan><tspan dx="-0.55" font-family='"Liberation Mono", monospace' font-size="12.96" letter-spacing="-1.22">I</tspan></text>
<text x="39.7" y="367.7" font-size="11" fill="#000" letter-spacing="0.23">(3673)</text>
<text x="74.22" y="427.7" font-size="12" font-weight="bold" fill="#000"><tspan letter-spacing="-0">Bpm</tspan><tspan dx="-0.55" font-family='"Liberation Mono", monospace' font-size="12.96" letter-spacing="-1.22">I</tspan></text>
<text x="27.5" y="427.7" font-size="11" fill="#000" letter-spacing="0.23">(3521)</text>
<text x="76.64" y="442.7" font-size="12" font-weight="bold" fill="#000"><tspan letter-spacing="0.08">Bmr</tspan><tspan dx="-0.55" font-family='"Liberation Mono", monospace' font-size="12.96" letter-spacing="-1.22">I</tspan></text>
<text x="29.5" y="442.7" font-size="11" fill="#000" letter-spacing="0.23">(3491)</text>
<text x="161.61" y="708.9" font-size="12" fill="#a020f0" letter-spacing="0.1">pBR322ori-F</text>
<text x="71.9" y="708.9" font-size="11" fill="#a020f0" letter-spacing="0.22">(2699 .. 2718)</text>
<text x="233.89" y="730.8" font-size="12" font-weight="bold" fill="#000"><tspan letter-spacing="-0.02">Pci</tspan><tspan dx="-0.55" font-family='"Liberation Mono", monospace' font-size="12.96" letter-spacing="-1.22">I</tspan></text>
<text x="187.9" y="730.8" font-size="11" fill="#000" letter-spacing="0.23">(2558)</text>
<text x="245.39" y="753" font-size="12" fill="#a020f0" letter-spacing="-0">L4440</text>
<text x="156.6" y="753" font-size="11" fill="#a020f0" letter-spacing="0.22">(2448 .. 2465)</text>
<text x="225.92" y="774.8" font-size="12" font-weight="bold" fill="#000"><tspan letter-spacing="-0.06">BspQ</tspan><tspan dx="-0.55" font-family='"Liberation Mono", monospace' font-size="12.96" letter-spacing="-1.22">I</tspan></text>
<text x="275.92" y="774.8" font-size="12" fill="#000" letter-spacing="1.12">-</text>
<text x="285.92" y="774.8" font-size="12" font-weight="bold" fill="#000"><tspan letter-spacing="-0.14">Sap</tspan><tspan dx="-0.55" font-family='"Liberation Mono", monospace' font-size="12.96" letter-spacing="-1.22">I</tspan></text>
<text x="179.5" y="774.8" font-size="11" fill="#000" letter-spacing="0.23">(2442)</text>
<text x="311.8" y="789.8" font-size="12" font-weight="bold" fill="#000"><tspan letter-spacing="-0.09">Hpa</tspan><tspan dx="-0.55" font-family='"Liberation Mono", monospace' font-size="12.96" letter-spacing="-1.22">I</tspan></text>
<text x="265.8" y="789.8" font-size="11" fill="#000" letter-spacing="0.23">(2379)</text>
<text x="377.98" y="812" font-size="12" fill="#a020f0" letter-spacing="0.03">T7</text>
<text x="288.6" y="812" font-size="11" fill="#a020f0" letter-spacing="0.22">(2342 .. 2361)</text>
<text x="799.8" y="10.2" font-size="7.55" fill="#b8b8b8" font-family='"Liberation Sans", sans-serif'>Created by</text>
<path d="M839.6,2.2 L844.2,1.8 Q846.4,2 846.3,4.6 Q846.2,7 843.6,7.4 L842.6,12.4 L841.2,12.4 Z" fill="#9ad4f5"/>
<text x="848.5" y="10.6" font-size="9.2" fill="#8a909c" font-family='"Liberation Sans", sans-serif'>SnapGene</text>
</svg></body></html>
